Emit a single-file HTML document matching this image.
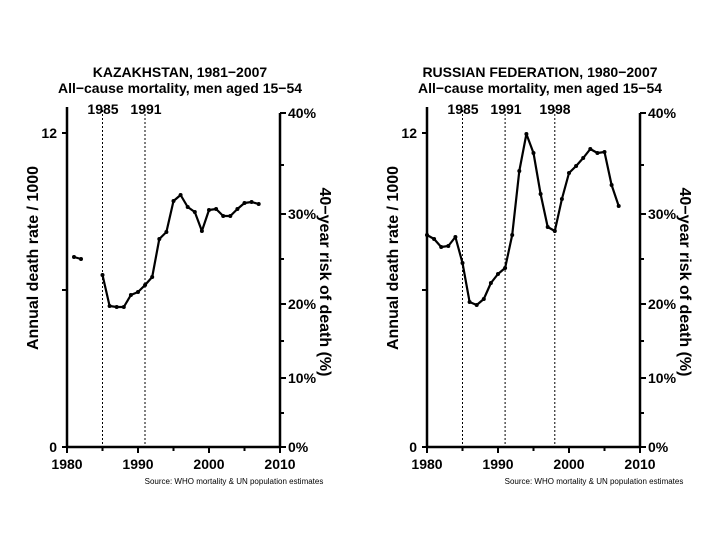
<!DOCTYPE html>
<html><head><meta charset="utf-8"><style>
body{margin:0;background:#fff}
svg{display:block;font-family:"Liberation Sans",Arial,sans-serif}
</style></head><body>
<svg width="720" height="540" viewBox="0 0 720 540" xmlns="http://www.w3.org/2000/svg">
<defs>
<g id="axes">
  <line x1="67" y1="107" x2="67" y2="448" stroke="#000" stroke-width="2.5"/>
  <line x1="66" y1="447" x2="281" y2="447" stroke="#000" stroke-width="2.5"/>
  <line x1="280" y1="113" x2="280" y2="448" stroke="#000" stroke-width="2.5"/>
  <g stroke="#000" stroke-width="2">
    <line x1="62" y1="447" x2="67" y2="447"/><line x1="62" y1="290" x2="67" y2="290"/><line x1="62" y1="133" x2="67" y2="133"/>
    <line x1="67" y1="447" x2="67" y2="453"/><line x1="102.5" y1="447" x2="102.5" y2="451"/><line x1="138" y1="447" x2="138" y2="453"/><line x1="173.5" y1="447" x2="173.5" y2="451"/><line x1="209" y1="447" x2="209" y2="453"/><line x1="244.5" y1="447" x2="244.5" y2="451"/><line x1="280" y1="447" x2="280" y2="453"/>
    <line x1="280" y1="447" x2="286" y2="447"/><line x1="280" y1="413" x2="284" y2="413"/><line x1="280" y1="378" x2="286" y2="378"/><line x1="280" y1="341" x2="284" y2="341"/><line x1="280" y1="304" x2="286" y2="304"/><line x1="280" y1="259" x2="284" y2="259"/><line x1="280" y1="214" x2="286" y2="214"/><line x1="280" y1="165" x2="284" y2="165"/><line x1="280" y1="113" x2="286" y2="113"/>
  </g>
  <g font-size="14" font-weight="bold">
    <text x="57" y="452" text-anchor="end">0</text>
    <text x="57" y="138" text-anchor="end">12</text>
    <g text-anchor="middle"><text x="67" y="469">1980</text><text x="138" y="469">1990</text><text x="209" y="469">2000</text><text x="280" y="469">2010</text></g>
    <text x="288" y="452">0%</text><text x="288" y="383">10%</text><text x="288" y="309">20%</text><text x="288" y="219">30%</text><text x="288" y="118">40%</text>
  </g>
  <text transform="translate(38,258) rotate(-90)" text-anchor="middle" font-size="16" font-weight="bold">Annual death rate / 1000</text>
  <text transform="translate(320,282) rotate(90)" text-anchor="middle" font-size="16" font-weight="bold">40−year risk of death (%)</text>
  <text x="234" y="484" text-anchor="middle" font-size="8">Source: WHO mortality &amp; UN population estimates</text>
</g>
</defs>

<use href="#axes"/>
<g stroke="#000" stroke-width="1" stroke-dasharray="2,2">
<line x1="102.5" y1="110" x2="102.5" y2="447"/><line x1="145" y1="110" x2="145" y2="447"/>
</g>
<g font-size="14" font-weight="bold" text-anchor="middle"><text x="103" y="114">1985</text><text x="146" y="114">1991</text></g>
<g text-anchor="middle" font-size="14" font-weight="bold"><text x="180" y="77">KAZAKHSTAN, 1981−2007</text><text x="180" y="93">All−cause mortality, men aged 15−54</text></g>
<g fill="none" stroke="#000" stroke-width="2.2" stroke-linejoin="round">
<polyline points="74,257 81,259"/>
<polyline points="102.5,275 109.6,306 116.7,307 123.8,307 130.9,295 138,292 145.1,285 152.2,277 159.3,239 166.4,232 173.5,201 180.6,195 187.7,207 194.8,212 201.9,231 209,210 216.1,209 223.2,216 230.3,216 237.4,209 244.5,203 251.6,202 258.7,204"/>
</g>
<g fill="#000">
<circle cx="74" cy="257" r="2"/><circle cx="81" cy="259" r="2"/>
<circle cx="102.5" cy="275" r="2"/><circle cx="109.6" cy="306" r="2"/><circle cx="116.7" cy="307" r="2"/><circle cx="123.8" cy="307" r="2"/><circle cx="130.9" cy="295" r="2"/><circle cx="138" cy="292" r="2"/><circle cx="145.1" cy="285" r="2"/><circle cx="152.2" cy="277" r="2"/><circle cx="159.3" cy="239" r="2"/><circle cx="166.4" cy="232" r="2"/><circle cx="173.5" cy="201" r="2"/><circle cx="180.6" cy="195" r="2"/><circle cx="187.7" cy="207" r="2"/><circle cx="194.8" cy="212" r="2"/><circle cx="201.9" cy="231" r="2"/><circle cx="209" cy="210" r="2"/><circle cx="216.1" cy="209" r="2"/><circle cx="223.2" cy="216" r="2"/><circle cx="230.3" cy="216" r="2"/><circle cx="237.4" cy="209" r="2"/><circle cx="244.5" cy="203" r="2"/><circle cx="251.6" cy="202" r="2"/><circle cx="258.7" cy="204" r="2"/>
</g>

<g transform="translate(360,0)">
<use href="#axes"/>
<g stroke="#000" stroke-width="1" stroke-dasharray="2,2">
<line x1="102.5" y1="110" x2="102.5" y2="447"/><line x1="145.1" y1="110" x2="145.1" y2="447"/><line x1="194.8" y1="110" x2="194.8" y2="447"/>
</g>
<g font-size="14" font-weight="bold" text-anchor="middle"><text x="103" y="114">1985</text><text x="146" y="114">1991</text><text x="195" y="114">1998</text></g>
<g text-anchor="middle" font-size="14" font-weight="bold"><text x="180" y="77">RUSSIAN FEDERATION, 1980−2007</text><text x="180" y="93">All−cause mortality, men aged 15−54</text></g>
<polyline fill="none" stroke="#000" stroke-width="2.2" stroke-linejoin="round" points="67,235 74.1,239 81.2,247 88.3,246 95.4,237 102.5,263 109.6,302 116.7,305 123.8,299 130.9,283 138,274 145.1,268 152.2,235 159.3,171 166.4,134 173.5,153 180.6,194 187.7,227 194.8,231 201.9,199 209,173 216.1,166 223.2,158 230.3,149 237.4,153 244.5,152 251.6,185 258.7,206"/>
<g fill="#000">
<circle cx="67" cy="235" r="2"/><circle cx="74.1" cy="239" r="2"/><circle cx="81.2" cy="247" r="2"/><circle cx="88.3" cy="246" r="2"/><circle cx="95.4" cy="237" r="2"/><circle cx="102.5" cy="263" r="2"/><circle cx="109.6" cy="302" r="2"/><circle cx="116.7" cy="305" r="2"/><circle cx="123.8" cy="299" r="2"/><circle cx="130.9" cy="283" r="2"/><circle cx="138" cy="274" r="2"/><circle cx="145.1" cy="268" r="2"/><circle cx="152.2" cy="235" r="2"/><circle cx="159.3" cy="171" r="2"/><circle cx="166.4" cy="134" r="2"/><circle cx="173.5" cy="153" r="2"/><circle cx="180.6" cy="194" r="2"/><circle cx="187.7" cy="227" r="2"/><circle cx="194.8" cy="231" r="2"/><circle cx="201.9" cy="199" r="2"/><circle cx="209" cy="173" r="2"/><circle cx="216.1" cy="166" r="2"/><circle cx="223.2" cy="158" r="2"/><circle cx="230.3" cy="149" r="2"/><circle cx="237.4" cy="153" r="2"/><circle cx="244.5" cy="152" r="2"/><circle cx="251.6" cy="185" r="2"/><circle cx="258.7" cy="206" r="2"/>
</g>
</g>
</svg>
</body></html>
